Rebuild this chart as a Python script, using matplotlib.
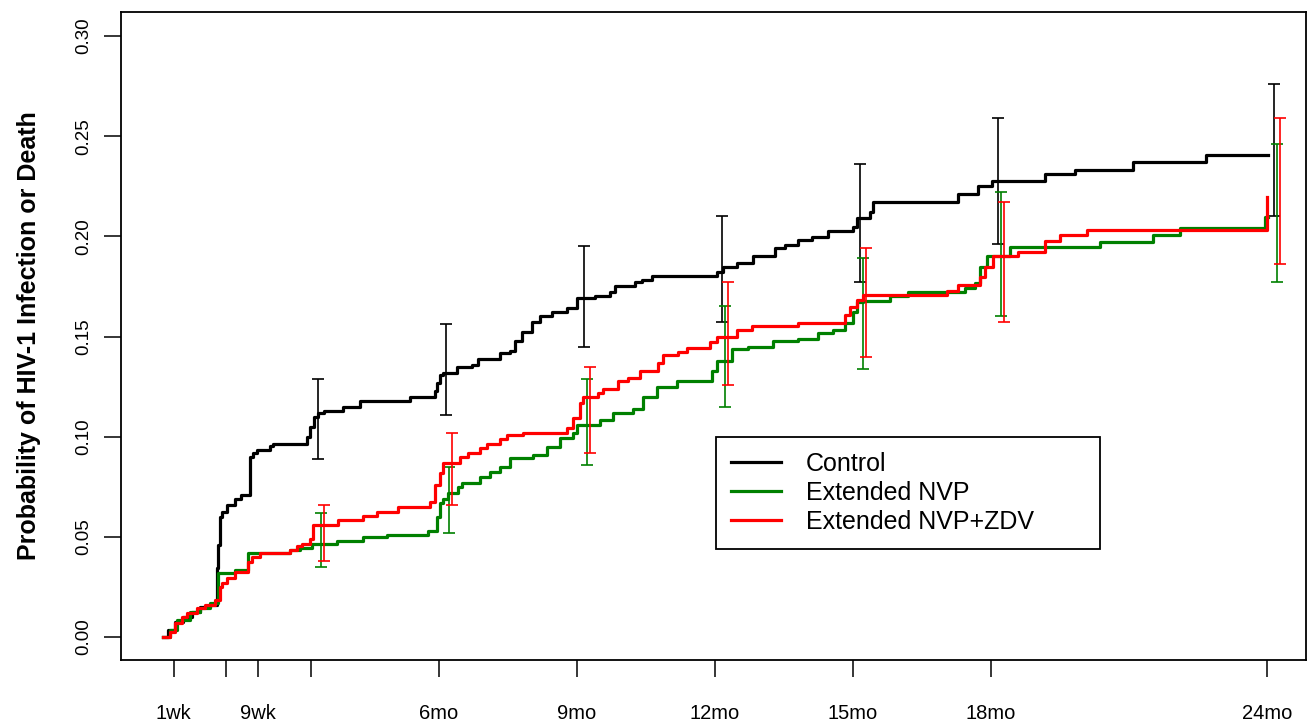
import numpy as np
import matplotlib
matplotlib.use('Agg')
import matplotlib.pyplot as plt

plt.rcParams['font.family'] = ['Liberation Sans', 'DejaVu Sans']

# time in months since birth, cumulative probability after each event
control_t = [0, 0.11, 0.26, 0.43, 0.63, 0.80, 1.02, 1.17, 1.20, 1.24, 1.28, 1.39, 1.57, 1.70,
             1.89, 1.96, 2.04, 2.33, 2.39, 3.13, 3.20, 3.28, 3.37, 3.50, 3.91, 4.28, 5.37,
             5.91, 5.96, 6.02, 6.09, 6.39, 6.72, 6.85, 7.33, 7.54, 7.65, 7.80, 8.02, 8.20,
             8.46, 8.78, 9.00, 9.39, 9.72, 9.83, 10.26, 10.41, 10.63, 12.04, 12.17, 12.48,
             12.83, 13.30, 13.52, 13.80, 14.11, 14.46, 15.00, 15.09, 15.37, 15.43, 17.28,
             17.72, 18.02, 19.17, 19.83, 21.09, 22.67, 24.02]
control_p = [0, 0.0035, 0.0075, 0.010, 0.0125, 0.015, 0.016, 0.0345, 0.046, 0.060, 0.0624,
             0.066, 0.069, 0.071, 0.090, 0.092, 0.0933, 0.0953, 0.0963, 0.100, 0.105, 0.110,
             0.112, 0.113, 0.115, 0.118, 0.120, 0.123, 0.127, 0.131, 0.132, 0.135, 0.136,
             0.139, 0.142, 0.143, 0.148, 0.152, 0.157, 0.160, 0.162, 0.164, 0.169, 0.170,
             0.172, 0.175, 0.177, 0.178, 0.180, 0.182, 0.1848, 0.1867, 0.190, 0.194, 0.1957,
             0.198, 0.1997, 0.2027, 0.2047, 0.209, 0.212, 0.217, 0.221, 0.225, 0.2276, 0.231,
             0.233, 0.237, 0.2406, 0.2406]

nvp_t = [0, 0.15, 0.30, 0.59, 0.80, 1.02, 1.20, 1.57, 1.85, 2.76, 2.98, 3.24, 3.78, 4.35,
         4.87, 5.76, 5.96, 6.02, 6.09, 6.20, 6.41, 6.50, 6.89, 7.11, 7.33, 7.54, 8.04, 8.35,
         8.63, 8.91, 9.00, 9.50, 9.78, 10.22, 10.43, 10.74, 11.17, 11.93, 12.04, 12.37,
         12.72, 13.26, 13.80, 14.24, 14.57, 14.83, 15.00, 15.09, 15.22, 15.80, 16.20, 17.43,
         17.65, 17.76, 17.91, 18.41, 20.37, 21.52, 22.11, 23.96, 24.02]
nvp_p = [0, 0.0035, 0.0085, 0.0125, 0.0145, 0.017, 0.032, 0.0334, 0.042, 0.0434, 0.0444,
         0.0464, 0.048, 0.050, 0.051, 0.053, 0.060, 0.067, 0.069, 0.072, 0.075, 0.077, 0.080,
         0.0824, 0.085, 0.0893, 0.091, 0.095, 0.0993, 0.102, 0.106, 0.1083, 0.112, 0.114,
         0.120, 0.125, 0.128, 0.133, 0.138, 0.1437, 0.1447, 0.1477, 0.149, 0.1517, 0.153,
         0.1567, 0.162, 0.1672, 0.1677, 0.170, 0.172, 0.174, 0.1767, 0.1847, 0.190, 0.1947,
         0.197, 0.2007, 0.204, 0.2097, 0.2097]

zdv_t = [0, 0.15, 0.26, 0.41, 0.52, 0.74, 0.91, 1.13, 1.24, 1.28, 1.39, 1.57, 1.85, 1.93,
         2.11, 2.76, 2.91, 3.02, 3.20, 3.26, 3.80, 4.35, 4.65, 5.11, 5.80, 5.91, 6.02, 6.09,
         6.46, 6.63, 6.89, 7.04, 7.33, 7.48, 7.83, 8.78, 8.91, 9.07, 9.13, 9.46, 9.57, 9.89,
         10.11, 10.37, 10.76, 10.87, 11.20, 11.39, 11.89, 12.04, 12.48, 12.80, 13.80, 14.83,
         14.93, 15.09, 15.22, 17.04, 17.28, 17.76, 17.87, 18.04, 18.59, 19.17, 19.50, 20.09,
         24.00]
zdv_p = [0, 0.0025, 0.007, 0.010, 0.012, 0.0145, 0.016, 0.0185, 0.025, 0.027, 0.0294,
         0.0324, 0.0374, 0.040, 0.042, 0.0434, 0.0454, 0.0464, 0.049, 0.056, 0.0584, 0.0604,
         0.0624, 0.065, 0.0674, 0.0759, 0.0819, 0.0869, 0.090, 0.092, 0.0943, 0.0963, 0.0988,
         0.101, 0.1018, 0.1043, 0.1093, 0.1168, 0.120, 0.1218, 0.1238, 0.1278, 0.1293, 0.1328,
         0.1368, 0.1408, 0.1423, 0.1443, 0.1473, 0.1497, 0.153, 0.155, 0.1567, 0.1607, 0.1647,
         0.168, 0.1707, 0.1727, 0.1757, 0.1797, 0.1847, 0.190, 0.192, 0.1977, 0.2007, 0.203,
         0.2196]

# confidence intervals at 14wk, 6, 9, 12, 15, 18, 24 months
ci_times = [3.22, 6, 9, 12, 15, 18, 24]
control_lo = [0.089, 0.111, 0.145, 0.157, 0.177, 0.196, 0.210]
control_hi = [0.129, 0.156, 0.195, 0.210, 0.236, 0.259, 0.276]
nvp_lo = [0.035, 0.052, 0.086, 0.115, 0.134, 0.160, 0.177]
nvp_hi = [0.062, 0.085, 0.129, 0.165, 0.189, 0.222, 0.246]
zdv_lo = [0.038, 0.066, 0.092, 0.126, 0.140, 0.157, 0.186]
zdv_hi = [0.066, 0.102, 0.135, 0.177, 0.194, 0.217, 0.259]

tick_pos = [0.23, 1.38, 2.07, 3.22, 6, 9, 12, 15, 18, 24]
tick_lab = ['1wk', '', '9wk', '', '6mo', '9mo', '12mo', '15mo', '18mo', '24mo']

fig = plt.figure(figsize=(13.08, 7.21), dpi=100)
ax = fig.add_axes([121/1308, 1-660/721, (1306-121)/1308, (660-12)/721])

groups = [
    ('Control', control_t, control_p, control_lo, control_hi, 'black', 0.15),
    ('Extended NVP', nvp_t, nvp_p, nvp_lo, nvp_hi, '#008000', 0.22),
    ('Extended NVP+ZDV', zdv_t, zdv_p, zdv_lo, zdv_hi, '#ff0000', 0.28),
]

for name, t, p, lo, hi, col, off in groups:
    ax.step(t, p, where='post', color=col, lw=2.3, label=name)
    x = np.array(ci_times) + off
    lo = np.array(lo)
    hi = np.array(hi)
    ax.vlines(x, lo, hi, color=col, lw=1.2)
    ax.hlines(lo, x - 0.13, x + 0.13, color=col, lw=1.2)
    ax.hlines(hi, x - 0.13, x + 0.13, color=col, lw=1.2)

ax.set_xlim(-0.913, 24.85)
ax.set_ylim(-0.0115, 0.312)

ax.set_yticks(np.arange(0, 0.31, 0.05))
ax.set_yticklabels(['%.2f' % v for v in np.arange(0, 0.31, 0.05)],
                   rotation=90, va='center', fontsize=13.5)
ax.set_xticks(tick_pos)
ax.set_xticklabels(tick_lab, fontsize=14.5)
ax.tick_params(axis='both', length=12, width=1.1, direction='out')
ax.tick_params(axis='y', pad=9)
ax.tick_params(axis='x', pad=20)

for s in ax.spines.values():
    s.set_linewidth(1.3)

ax.set_ylabel('Probability of HIV-1 Infection or Death', fontsize=18,
              fontweight='bold', labelpad=24)

leg = ax.legend(loc='upper left', bbox_to_anchor=(0.502, 0.168, 0.324, 0.176),
                mode='expand', fontsize=18, frameon=True, fancybox=False,
                edgecolor='black', framealpha=1, borderaxespad=0,
                handlelength=2.0, handletextpad=1.0, labelspacing=0.2,
                borderpad=0.6)
leg.get_frame().set_linewidth(1.3)

fig.savefig('out.png', dpi=100)
